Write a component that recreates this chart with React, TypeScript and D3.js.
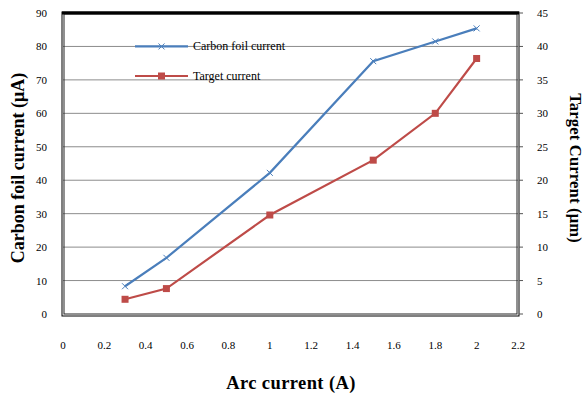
import * as d3 from "d3";

const arcCurrent = [0.3, 0.5, 1, 1.5, 1.8, 2];
const carbonFoil = [8.3, 16.8, 42.2, 75.6, 81.5, 85.4];
const targetCurrent = [2.2, 3.8, 14.8, 23, 30, 38.2];
const xTicks = [0, 0.2, 0.4, 0.6, 0.8, 1, 1.2, 1.4, 1.6, 1.8, 2, 2.2];
const leftTicks = [0, 10, 20, 30, 40, 50, 60, 70, 80, 90];
const rightTicks = [0, 5, 10, 15, 20, 25, 30, 35, 40, 45];
const seriesNames = ["Carbon foil current", "Target  current"];

const width = 586;
const height = 396;
const plot = { left: 63, right: 518, top: 13, bottom: 315 };
const serif = "'Liberation Serif', 'DejaVu Serif', serif";
const blue = "#4a7ebb";
const red = "#be4b48";

function xMark(cx: number, cy: number) {
  return `M${cx - 3},${cy - 3}L${cx + 3},${cy + 3}M${cx - 3},${cy + 3}L${cx + 3},${cy - 3}`;
}

export default function App() {
  const x = d3.scaleLinear().domain([0, 2.2]).range([plot.left, plot.right]);
  const yLeft = d3.scaleLinear().domain([0, 90]).range([plot.bottom - 1, plot.top]);
  const yRight = d3.scaleLinear().domain([0, 45]).range([plot.bottom - 1, plot.top]);

  const carbonLine = d3
    .line<number>()
    .x((_, i) => x(arcCurrent[i]))
    .y((v) => yLeft(v))(carbonFoil);
  const targetLine = d3
    .line<number>()
    .x((_, i) => x(arcCurrent[i]))
    .y((v) => yRight(v))(targetCurrent);

  const legendX1 = 135;
  const legendX2 = 188;
  const legendMid = (legendX1 + legendX2) / 2;
  const legendY = [yLeft(80), 76];

  return (
    <div style={{ position: "absolute", left: 0, top: 0 }}>
      <svg width={width} height={height} style={{ display: "block", background: "#fff", fontFamily: serif }}>
        {leftTicks.slice(1, -1).map((t) => (
          <line key={`g-${t}`} x1={plot.left} x2={plot.right} y1={yLeft(t)} y2={yLeft(t)} stroke="#8c8c8c" strokeWidth={1} />
        ))}

        {/* frame */}
        <rect x={plot.left - 1} y={plot.top - 1} width={plot.right - plot.left + 2} height={plot.bottom - plot.top + 2} fill="none" stroke="#000" strokeWidth={1} />
        <rect x={plot.left + 1} y={plot.top + 1} width={plot.right - plot.left - 2} height={plot.bottom - plot.top - 2} fill="none" stroke="#222" strokeWidth={1} />
        <line x1={plot.left - 1} x2={plot.right + 1} y1={plot.top} y2={plot.top} stroke="#000" strokeWidth={3} />

        {leftTicks.map((t) => (
          <text key={`l-${t}`} x={47} y={yLeft(t) + 4} textAnchor="end" fontSize={11} fill="#000">{t}</text>
        ))}
        {rightTicks.map((t) => (
          <g key={`r-${t}`}>
            <line x1={plot.right + 1} x2={plot.right + 5} y1={yRight(t)} y2={yRight(t)} stroke="#555" />
            <text x={537} y={yRight(t) + 4} textAnchor="start" fontSize={11} fill="#000">{t}</text>
          </g>
        ))}
        {xTicks.map((t) => (
          <text key={`x-${t}`} x={x(t)} y={349} textAnchor="middle" fontSize={11} fill="#000">{t}</text>
        ))}

        <path d={carbonLine ?? ""} fill="none" stroke={blue} strokeWidth={2.2} />
        <path d={targetLine ?? ""} fill="none" stroke={red} strokeWidth={2.2} />
        {carbonFoil.map((v, i) => (
          <path key={`cm-${i}`} d={xMark(x(arcCurrent[i]), yLeft(v))} stroke={blue} strokeWidth={1} fill="none" />
        ))}
        {targetCurrent.map((v, i) => (
          <rect key={`tm-${i}`} x={x(arcCurrent[i]) - 3.5} y={yRight(v) - 3.5} width={7} height={7} fill={red} />
        ))}

        {/* legend */}
        <line x1={legendX1} x2={legendX2} y1={legendY[0]} y2={legendY[0]} stroke={blue} strokeWidth={2.2} />
        <path d={xMark(legendMid, legendY[0])} stroke={blue} strokeWidth={1} />
        <text x={193} y={legendY[0] + 4} fontSize={12} fill="#000">{seriesNames[0]}</text>
        <line x1={legendX1} x2={legendX2} y1={legendY[1]} y2={legendY[1]} stroke={red} strokeWidth={2.2} />
        <rect x={legendMid - 3.5} y={legendY[1] - 3.5} width={7} height={7} fill={red} />
        <text x={193} y={legendY[1] + 4} fontSize={12} fill="#000">{seriesNames[1]}</text>

        {/* axis titles */}
        <text transform={`translate(24, ${(plot.top + plot.bottom) / 2 + 4}) rotate(-90)`} textAnchor="middle" fontSize={18} fontWeight="bold" fill="#000">
          Carbon foil current (μA)
        </text>
        <text transform={`translate(570, ${(plot.top + plot.bottom) / 2 + 4}) rotate(90)`} textAnchor="middle" fontSize={16.5} fontWeight="bold" letterSpacing={0.2} fill="#000">
          Target Current (μm)
        </text>
        <text x={291} y={389} textAnchor="middle" fontSize={18.5} fontWeight="bold" letterSpacing={0.4} fill="#000">
          Arc current (A)
        </text>
      </svg>
    </div>
  );
}
